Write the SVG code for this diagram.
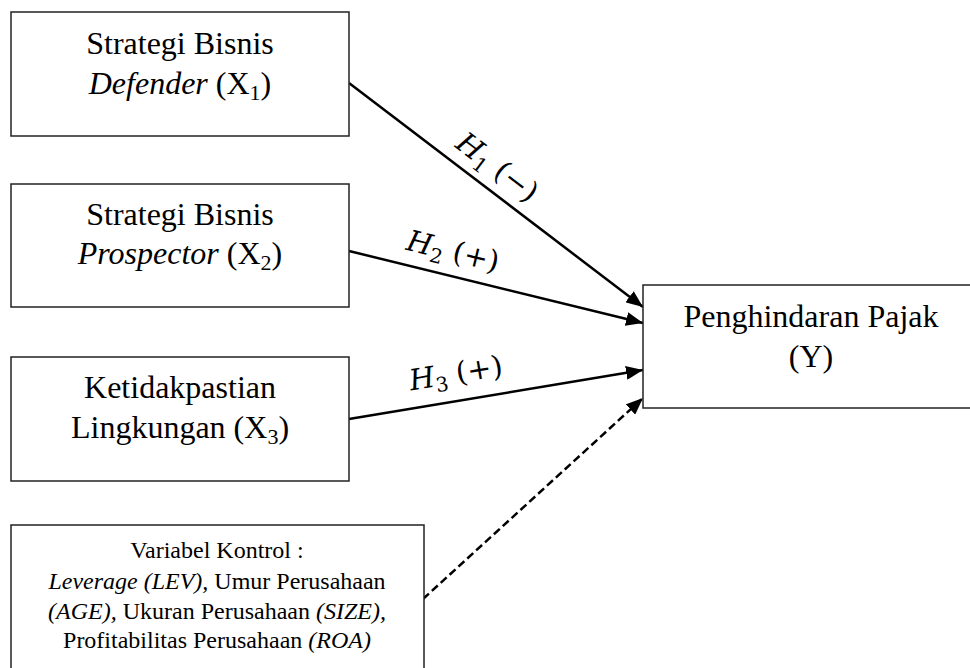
<svg xmlns="http://www.w3.org/2000/svg" width="970" height="668" viewBox="0 0 970 668">
<style>
.box{fill:#fff;stroke:#222;stroke-width:1.5}
.t{font-family:"Liberation Serif","Times New Roman",serif;font-size:32px;fill:#000;text-anchor:middle}
.s{font-family:"Liberation Serif","Times New Roman",serif;font-size:24px;fill:#000;text-anchor:middle}
.m{font-family:"DejaVu Serif","Liberation Serif",serif;font-size:29px;fill:#000;text-anchor:middle}
.i{font-style:italic}
.sub{font-size:22px}
.msub{font-size:20px}
.c{fill:none;stroke:#000;stroke-width:2.5}
.d{stroke-dasharray:8 4}
</style>
<defs>
<marker id="ah" markerUnits="userSpaceOnUse" markerWidth="18" markerHeight="14" refX="17" refY="7" orient="auto">
<path d="M0,0 L17,7 L0,14 z" fill="#000"/>
</marker>
</defs>
<g id="connectors">
<line class="c" x1="349" y1="83" x2="643" y2="307" marker-end="url(#ah)"/>
<line class="c" x1="349" y1="251" x2="643" y2="323" marker-end="url(#ah)"/>
<line class="c" x1="349" y1="419" x2="643" y2="370" marker-end="url(#ah)"/>
<line class="c d" x1="423" y1="599" x2="643" y2="398" marker-end="url(#ah)"/>
<text class="m" transform="translate(497,168) rotate(37.3)" y="9"><tspan class="i">H</tspan><tspan class="msub" dy="6">1</tspan><tspan dy="-6"> (−)</tspan></text>
<text class="m" transform="translate(453,252) rotate(13.8)" y="9"><tspan class="i">H</tspan><tspan class="msub" dy="6">2</tspan><tspan dy="-6"> (+)</tspan></text>
<text class="m" transform="translate(456,374) rotate(-9.3)" y="9"><tspan class="i">H</tspan><tspan class="msub" dy="6">3</tspan><tspan dy="-6"> (+)</tspan></text>
</g>
<g id="x1">
<rect class="box" x="11" y="12" width="338" height="124"/>
<text class="t" x="180" y="54">Strategi Bisnis</text>
<text class="t" x="180" y="94"><tspan class="i">Defender</tspan> (X<tspan class="sub" dy="6">1</tspan><tspan dy="-6">)</tspan></text>
</g>
<g id="x2">
<rect class="box" x="11" y="184" width="338" height="123"/>
<text class="t" x="180" y="225">Strategi Bisnis</text>
<text class="t" x="180" y="264"><tspan class="i">Prospector</tspan> (X<tspan class="sub" dy="6">2</tspan><tspan dy="-6">)</tspan></text>
</g>
<g id="x3">
<rect class="box" x="11" y="357" width="338" height="124"/>
<text class="t" x="180" y="398">Ketidakpastian</text>
<text class="t" x="180" y="438">Lingkungan (X<tspan class="sub" dy="6">3</tspan><tspan dy="-6">)</tspan></text>
</g>
<g id="y">
<rect class="box" x="643" y="285" width="340" height="123"/>
<text class="t" x="811" y="327">Penghindaran Pajak</text>
<text class="t" x="811" y="367">(Y)</text>
</g>
<g id="control">
<rect class="box" x="11" y="525" width="413" height="160"/>
<text class="s" x="217" y="558">Variabel Kontrol :</text>
<text class="s" x="217" y="589"><tspan class="i">Leverage (LEV),</tspan> Umur Perusahaan</text>
<text class="s" x="217" y="619"><tspan class="i">(AGE),</tspan> Ukuran Perusahaan <tspan class="i">(SIZE),</tspan></text>
<text class="s" x="217" y="648">Profitabilitas Perusahaan <tspan class="i">(ROA)</tspan></text>
</g>
</svg>
